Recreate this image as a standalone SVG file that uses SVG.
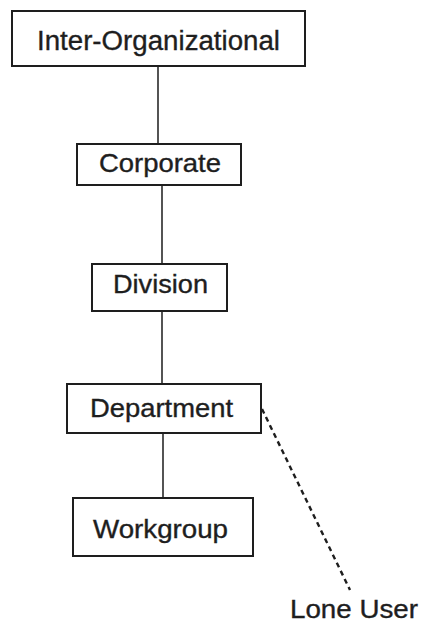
<svg xmlns="http://www.w3.org/2000/svg" width="422" height="625" viewBox="0 0 422 625">
  <style>
    .box { fill: #ffffff; stroke: #1e1e1e; stroke-width: 2; }
    .lbl { font-family: "Liberation Sans", Arial, sans-serif; font-size: 25px; fill: #1e1e1e; stroke: #1e1e1e; stroke-width: 0.35; }
    .link { stroke: #2a2a2a; stroke-width: 1.6; fill: none; }
    .dash { stroke: #1e1e1e; stroke-width: 2.4; stroke-dasharray: 5 4; fill: none; }
  </style>
  <rect width="422" height="625" fill="#ffffff"/>

  <g id="connectors">
    <line class="link" x1="158" y1="66" x2="158" y2="144"/>
    <line class="link" x1="162" y1="185" x2="162" y2="264"/>
    <line class="link" x1="162" y1="311" x2="162" y2="384"/>
    <line class="link" x1="163" y1="433" x2="163" y2="498"/>
    <line class="dash" x1="262" y1="409" x2="350" y2="590"/>
  </g>

  <g id="inter-organizational">
    <rect class="box" x="12" y="11" width="293" height="55"/>
    <text class="lbl" x="37" y="50" style="font-size:27px" textLength="243" lengthAdjust="spacingAndGlyphs">Inter-Organizational</text>
  </g>

  <g id="corporate">
    <rect class="box" x="77" y="144" width="164" height="41"/>
    <text class="lbl" x="99" y="172" textLength="122" lengthAdjust="spacingAndGlyphs">Corporate</text>
  </g>

  <g id="division">
    <rect class="box" x="92" y="264" width="135" height="47"/>
    <text class="lbl" x="113" y="293" textLength="95" lengthAdjust="spacingAndGlyphs">Division</text>
  </g>

  <g id="department">
    <rect class="box" x="67" y="384" width="194" height="49"/>
    <text class="lbl" x="90" y="417" textLength="143" lengthAdjust="spacingAndGlyphs">Department</text>
  </g>

  <g id="workgroup">
    <rect class="box" x="73" y="498" width="180" height="58"/>
    <text class="lbl" x="93" y="538" textLength="135" lengthAdjust="spacingAndGlyphs">Workgroup</text>
  </g>

  <g id="lone-user">
    <text class="lbl" x="290" y="618" textLength="128" lengthAdjust="spacingAndGlyphs">Lone User</text>
  </g>
</svg>
